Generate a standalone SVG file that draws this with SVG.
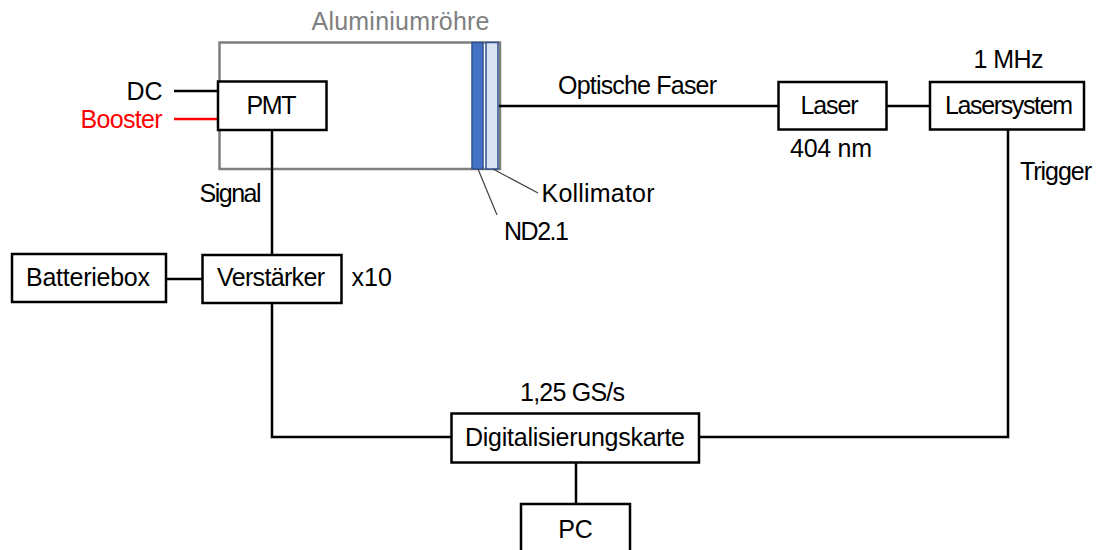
<svg xmlns="http://www.w3.org/2000/svg" width="1103" height="550" viewBox="0 0 1103 550">
<style>
text{font-family:"Liberation Sans",Arial,sans-serif;font-size:25px;fill:#000}
.box{fill:#fff;stroke:#000;stroke-width:2.5}
.wire{fill:none;stroke:#000;stroke-width:2.5}
.lead{fill:none;stroke:#404040;stroke-width:1.2}
.c{text-anchor:middle}
</style>
<rect width="1103" height="550" fill="#fff"/>
<g id="tube">
<rect x="219.5" y="42.5" width="280.5" height="126.5" fill="#fff" stroke="#7f7f7f" stroke-width="2.5"/>
<text class="c" x="400.5" y="29.5" style="fill:#7f7f7f" textLength="178">Aluminiumröhre</text>
</g>
<g id="nd-filter">
<rect x="472" y="42.5" width="11" height="126.5" fill="#4472c4" stroke="#2f528f" stroke-width="1.5"/>
</g>
<g id="collimator">
<rect x="486" y="42.5" width="12" height="126.5" fill="#dae3f3" stroke="#2f528f" stroke-width="1.5"/>
</g>
<g id="connectors">
<line class="wire" x1="174" y1="91" x2="218" y2="91"/>
<line class="wire" x1="174" y1="119" x2="218" y2="119" style="stroke:#ff0000"/>
<line class="wire" x1="272" y1="130" x2="272" y2="255"/>
<line class="wire" x1="166" y1="279" x2="202.5" y2="279"/>
<polyline class="wire" points="272,303 272,437 451.5,437"/>
<polyline class="wire" points="699,437 1008,437 1008,129.5"/>
<line class="wire" x1="576" y1="462" x2="576" y2="504"/>
<line class="wire" x1="499" y1="106" x2="778.5" y2="106"/>
<line class="wire" x1="886.5" y1="106" x2="930" y2="106"/>
<line class="lead" x1="478" y1="169" x2="497" y2="215"/>
<line class="lead" x1="493" y1="169" x2="538" y2="193"/>
</g>
<g id="pmt">
<rect class="box" x="218" y="81.5" width="108.5" height="48.5"/>
<text class="c" x="271.5" y="114.3" textLength="50">PMT</text>
</g>
<g id="labels">
<text x="162.5" y="99.5" text-anchor="end">DC</text>
<text x="162.5" y="127.7" text-anchor="end" style="fill:#ff0000" textLength="82">Booster</text>
<text x="261.5" y="202" text-anchor="end" textLength="62">Signal</text>
<text class="c" x="637.5" y="94" textLength="159">Optische Faser</text>
<text x="541.5" y="201.7" textLength="113">Kollimator</text>
<text x="504" y="240" textLength="65">ND2.1</text>
<text class="c" x="831" y="156.7" textLength="82">404 nm</text>
<text class="c" x="1008.5" y="68.3" textLength="70">1 MHz</text>
<text x="1020" y="180" textLength="72">Trigger</text>
<text x="351.5" y="285.7">x10</text>
<text class="c" x="572.5" y="400.7" textLength="105">1,25 GS/s</text>
</g>
<g id="laser">
<rect class="box" x="778.5" y="82" width="108" height="47.5"/>
<text class="c" x="829.5" y="114" textLength="58">Laser</text>
</g>
<g id="lasersystem">
<rect class="box" x="930" y="82" width="154" height="47.5"/>
<text class="c" x="1009" y="114" textLength="128">Lasersystem</text>
</g>
<g id="batteriebox">
<rect class="box" x="12" y="254" width="154" height="48"/>
<text class="c" x="88" y="285.7" textLength="124">Batteriebox</text>
</g>
<g id="verstaerker">
<rect class="box" x="202.5" y="255" width="139" height="48"/>
<text class="c" x="271" y="285.7" textLength="108">Verstärker</text>
</g>
<g id="digitalisierungskarte">
<rect class="box" x="451.5" y="413.5" width="247.5" height="49"/>
<text class="c" x="575" y="445.5" textLength="220">Digitalisierungskarte</text>
</g>
<g id="pc">
<rect class="box" x="521" y="504" width="109" height="60"/>
<text class="c" x="575.5" y="537.5">PC</text>
</g>
</svg>
